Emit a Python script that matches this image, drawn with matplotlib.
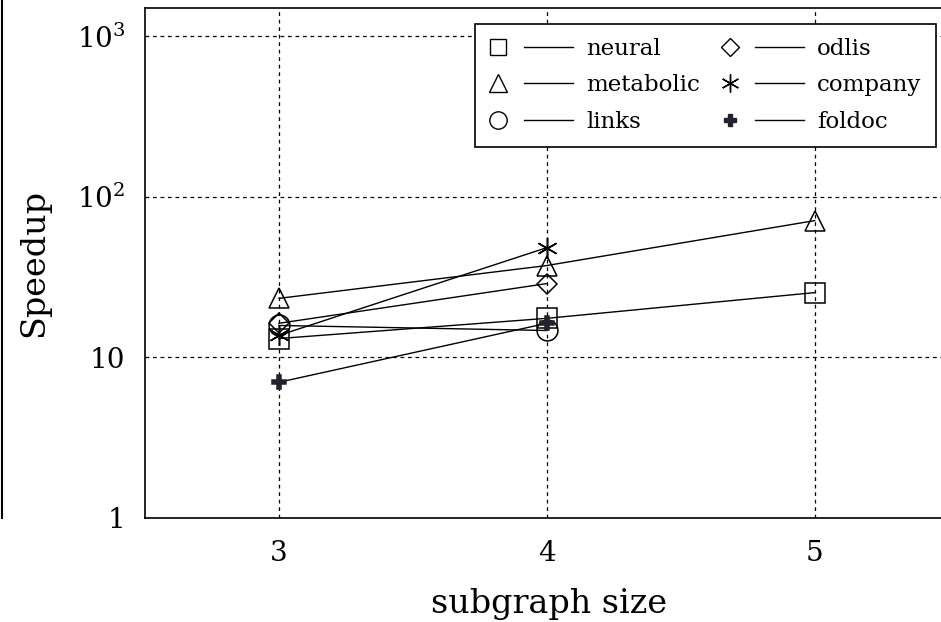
import numpy as np
import matplotlib
matplotlib.use('Agg')
import matplotlib.pyplot as plt
from matplotlib.lines import Line2D
from matplotlib.legend_handler import HandlerBase
from matplotlib.ticker import FixedLocator, FixedFormatter, NullLocator

plt.rcParams['font.family'] = 'DejaVu Serif'
plt.rcParams['mathtext.fontset'] = 'dejavuserif'

# Data
sizes = [3, 4, 5]
neural = [13.1, 17.5, 25.3]
metabolic = [23.3, 37.3, 71.0]
links = [15.8, 14.7]
odlis = [16.3, 28.8]
company = [13.7, 48.2]
foldoc = [7.0, 16.3]

series = [
    ('neural', neural, 's', 15, 12),
    ('metabolic', metabolic, '^', 15, 13),
    ('links', links, 'o', 15, 12.5),
    ('odlis', odlis, 'D', 10.5, 9.5),
    ('company', company, (6, 2, 0), 15, 13),
    ('foldoc', foldoc, 'P', 10, 9),
]


class MarkerThenLine(HandlerBase):
    # legend entry drawn as: marker, gap, short line
    def create_artists(self, legend, orig_handle, xdescent, ydescent,
                       width, height, fontsize, trans):
        y = height / 2 - ydescent
        x0 = -xdescent
        mk = Line2D([x0 + 0.11 * width], [y], ls='none',
                    marker=orig_handle.get_marker(), ms=orig_handle.get_markersize(),
                    mfc=orig_handle.get_markerfacecolor(),
                    mec=orig_handle.get_markeredgecolor(), mew=1.0)
        ln = Line2D([x0 + 0.41 * width, x0 + width], [y, y], color='black', lw=1.0)
        mk.set_transform(trans)
        ln.set_transform(trans)
        return [mk, ln]


fig = plt.figure(figsize=(9.41, 6.22), dpi=100)
ax = fig.add_axes([145 / 941, 104 / 622, 809 / 941, 510 / 622])

handles = []
labels = []
for name, vals, marker, ms, lms in series:
    xs = sizes[:len(vals)]
    if name == 'foldoc':
        fc, ec = '#22222e', '#22222e'
    else:
        fc, ec = 'none', 'black'
    ax.plot(xs, vals, color='black', lw=1.0, marker=marker, ms=ms,
            mfc=fc, mec=ec, mew=1.1, zorder=3)
    handles.append(Line2D([], [], marker=marker, ms=lms, mfc=fc, mec=ec))
    labels.append(name)

ax.set_yscale('log')
ax.set_xlim(2.5, 5.52)
ax.set_ylim(1, 10 ** 3.175)
ax.xaxis.set_major_locator(FixedLocator(sizes))
ax.yaxis.set_major_locator(FixedLocator([1, 10, 100, 1000]))
ax.yaxis.set_major_formatter(FixedFormatter(['1', '10', '$10^2$', '$10^3$']))
ax.yaxis.set_minor_locator(NullLocator())
ax.tick_params(axis='both', length=0, labelsize=20)
ax.tick_params(axis='x', pad=16)
ax.tick_params(axis='y', pad=14)

ax.grid(True, which='major', color='black', ls=(0, (3, 3)), lw=0.9)
ax.set_axisbelow(True)
for s in ax.spines.values():
    s.set_linewidth(1.2)

ax.set_xlabel('subgraph size', fontsize=24, labelpad=15)
ax.set_ylabel('Speedup', fontsize=24, labelpad=19)

leg = ax.legend(handles, labels, ncol=2, loc='upper left',
                bbox_to_anchor=(330 / 809, 1 - 16 / 510),
                handler_map={Line2D: MarkerThenLine()},
                handlelength=3.65, fontsize=16.5, frameon=True, fancybox=False,
                edgecolor='black', framealpha=1, borderpad=0.62,
                borderaxespad=0, columnspacing=0.9, handletextpad=0.57,
                labelspacing=0.62)
leg.get_frame().set_linewidth(1.2)

# page border line at the far left of the crop
fig.add_artist(Line2D([0.002, 0.002], [104 / 622, 1.0], color='black', lw=1.5))

fig.savefig('out.png', dpi=100)
